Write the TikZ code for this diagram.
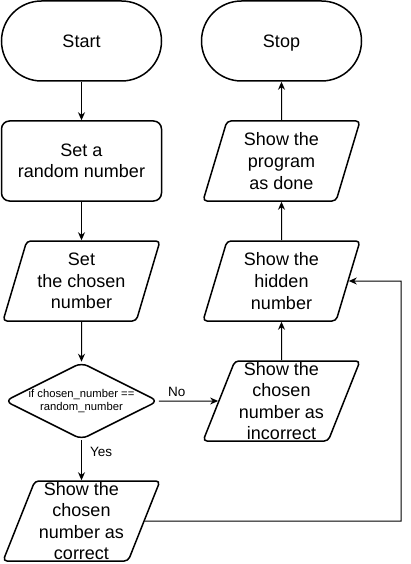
\documentclass[tikz,border=0pt]{standalone}
\usepackage{fontspec}
\setmainfont{Liberation Sans}
\usetikzlibrary{shapes.geometric,arrows.meta}

\begin{document}
\begin{tikzpicture}[x=1pt,y=-1pt,
    every node/.style={font=\fontsize{18}{21.6}\selectfont, align=center, inner sep=0pt},
    term/.style={draw, line width=1.5pt, rounded corners=40pt, minimum width=160pt, minimum height=80pt,
        text height=16pt, text depth=2pt},
    proc/.style={draw, line width=1.5pt, rounded corners=8pt, minimum width=160pt, minimum height=80pt},
    io/.style={draw, line width=1.5pt, rounded corners=4pt, trapezium, trapezium left angle=67, trapezium right angle=113,
        trapezium stretches body, minimum width=157pt, minimum height=80pt},
    test/.style={draw, line width=1.5pt, rounded corners=7pt, diamond, aspect=2, minimum width=153pt, minimum height=77pt,
        font=\fontsize{11.25}{13.5}\selectfont},
    flow/.style={line width=1pt, -{Stealth[length=8pt,width=7pt]}},
    tag/.style={font=\fontsize{13.5}{16}\selectfont}]
    \useasboundingbox (0,0) rectangle (410,564);

    % left column
    \node[term] (start) at (81.5,41) {Start};
    \node[proc] (rand) at (81.5,161) {Set a\\random number};
    \node[io] (chosen) at (81.5,281) {Set\\the chosen\\number};
    \node[test] (check) at (81.5,401) {if chosen\_number ==\\random\_number};
    \node[io, inner ysep=-1.5pt] (correct) at (81.5,521) {Show the\\chosen\\number as\\correct};

    % right column
    \node[term] (stop) at (281.5,41) {Stop};
    \node[io] (done) at (281.5,161) {Show the\\program\\as done};
    \node[io] (hidden) at (281.5,281) {Show the\\hidden\\number};
    \node[io, inner ysep=-1.5pt] (wrong) at (281.5,401) {Show the\\chosen\\number as\\incorrect};

    \coordinate (back) at (401,521);

    \foreach \a/\b in {start/rand, rand/chosen, chosen/check, wrong/hidden, hidden/done, done/stop}
        \draw[flow] (\a) -- (\b);

    \draw[flow] (check) -- node[tag, above=4pt, pos=.3] {No} (wrong);
    \draw[flow] (check) -- node[tag, right=8pt, pos=.3] {Yes} (correct);
    \draw[flow] (correct.east) -- (back) |- (hidden.east);
\end{tikzpicture}
\end{document}
